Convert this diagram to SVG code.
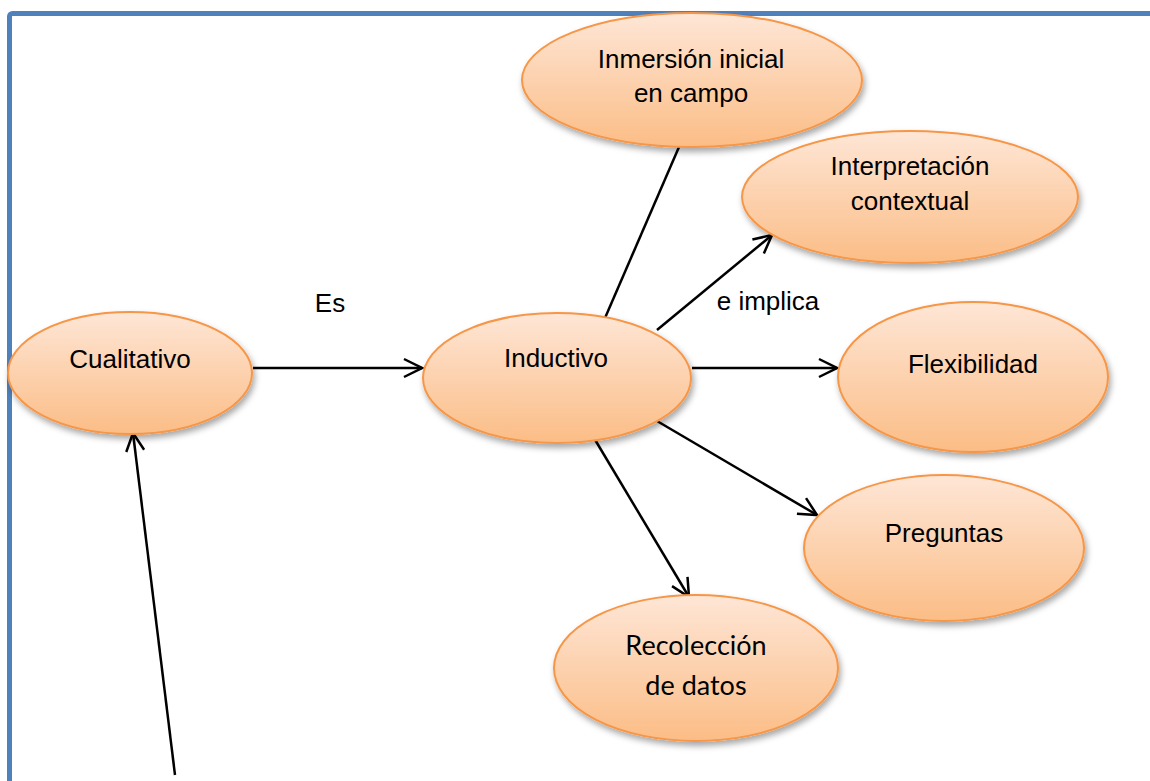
<svg xmlns="http://www.w3.org/2000/svg" width="1150" height="781" viewBox="0 0 1150 781">
<style>
.node ellipse{fill:url(#g);stroke:#F79646;stroke-width:2;filter:url(#sh)}
.t{font-family:"Liberation Sans",Arial,sans-serif;font-size:26px;fill:#000;text-anchor:middle}
.c{font-family:Lato,"Open Sans",sans-serif;font-size:27px;fill:#000;text-anchor:middle}
.edge line{stroke:#000;stroke-width:2.5;fill:none}
.arr{marker-end:url(#ah)}
</style>
<defs>
<linearGradient id="g" x1="0" y1="0" x2="0" y2="1">
<stop offset="0" stop-color="#FEE6D6"/>
<stop offset="1" stop-color="#FBBD86"/>
</linearGradient>
<filter id="sh" x="-10%" y="-10%" width="125%" height="130%">
<feDropShadow dx="2" dy="4" stdDeviation="3" flood-color="#000" flood-opacity="0.35"/>
</filter>
<marker id="ah" viewBox="0 0 22 22" refX="20" refY="11" markerWidth="22" markerHeight="22" markerUnits="userSpaceOnUse" orient="auto">
<path d="M2,2 L20,11 L2,20" fill="none" stroke="#000" stroke-width="2.5"/>
</marker>
</defs>
<rect width="1150" height="781" fill="#fff"/>
<rect x="9.5" y="13.5" width="1160" height="800" rx="3" fill="none" stroke="#4F81BD" stroke-width="5"/>
<g id="connectors" class="edge">
<line class="arr" x1="253" y1="368" x2="422" y2="368"/>
<line x1="605" y1="318" x2="679" y2="147"/>
<line class="arr" x1="657" y1="330" x2="772" y2="235"/>
<line class="arr" x1="692" y1="368" x2="837" y2="368"/>
<line class="arr" x1="657" y1="421" x2="817" y2="515"/>
<line class="arr" x1="594" y1="438" x2="689" y2="597"/>
<line class="arr" x1="175" y1="775" x2="133" y2="433"/>
</g>
<g id="labels">
<text class="t" x="330" y="312">Es</text>
<text class="t" x="768" y="310">e implica</text>
</g>
<g id="cualitativo" class="node">
<ellipse cx="130" cy="373" rx="122" ry="61"/>
<text class="t" x="130" y="368">Cualitativo</text>
</g>
<g id="inductivo" class="node">
<ellipse cx="557" cy="378" rx="134" ry="65"/>
<text class="t" x="556" y="367">Inductivo</text>
</g>
<g id="inmersion" class="node">
<ellipse cx="692" cy="80" rx="170" ry="67"/>
<text class="t" x="691" y="68">Inmersión inicial</text>
<text class="t" x="691" y="102">en campo</text>
</g>
<g id="interpretacion" class="node">
<ellipse cx="910" cy="197" rx="168" ry="66"/>
<text class="t" x="910" y="175">Interpretación</text>
<text class="t" x="910" y="210">contextual</text>
</g>
<g id="flexibilidad" class="node">
<ellipse cx="973" cy="377" rx="135" ry="75"/>
<text class="t" x="973" y="373">Flexibilidad</text>
</g>
<g id="preguntas" class="node">
<ellipse cx="944" cy="548" rx="140" ry="73"/>
<text class="t" x="944" y="542">Preguntas</text>
</g>
<g id="recoleccion" class="node">
<ellipse cx="696" cy="668" rx="142" ry="73"/>
<text class="c" x="696" y="655">Recolección</text>
<text class="c" x="696" y="695">de datos</text>
</g>
</svg>
